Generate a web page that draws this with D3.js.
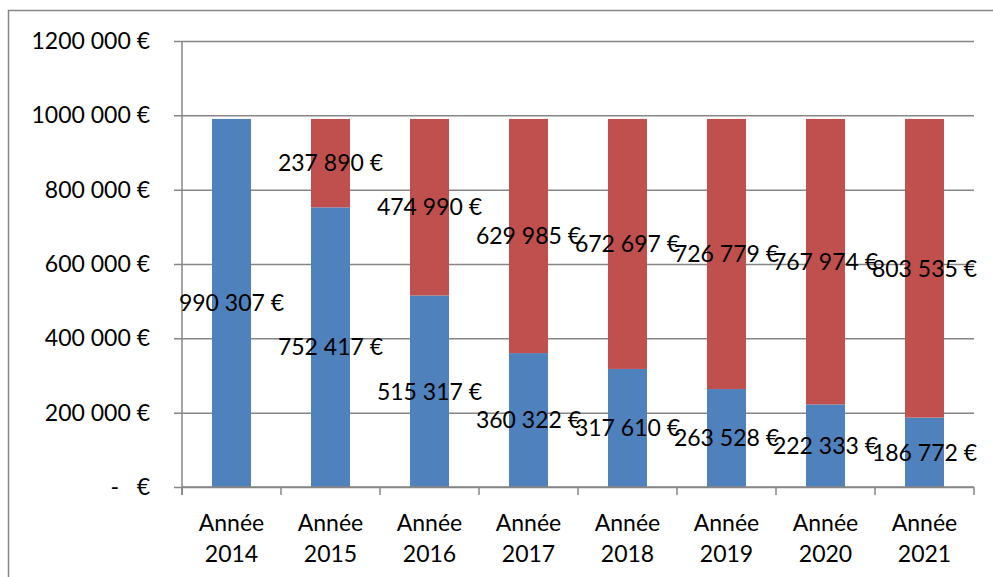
<!DOCTYPE html>
<html>
<head>
<meta charset="utf-8">
<script src="https://cdn.jsdelivr.net/npm/d3@7"></script>
<style>
  html, body { margin: 0; padding: 0; background: #fff; }
  svg { display: block; }
  text { font-family: Lato, "Open Sans", sans-serif; fill: #000; white-space: pre; }
</style>
</head>
<body>
<svg id="chart" width="993" height="577"></svg>
<script>
// Cumulative amounts per year: blue = remaining, red = already covered
const categories = ["Année 2014", "Année 2015", "Année 2016", "Année 2017", "Année 2018", "Année 2019", "Année 2020", "Année 2021"];
const blueValues = [990307, 752417, 515317, 360322, 317610, 263528, 222333, 186772];
const redValues  = [0, 237890, 474990, 629985, 672697, 726779, 767974, 803535];
const yTicks = [0, 200000, 400000, 600000, 800000, 1000000, 1200000];
const yTickLabels = ["-   €", "200 000 €", "400 000 €", "600 000 €", "800 000 €", "1000 000 €", "1200 000 €"];

const BLUE = "#4F81BD", RED = "#C0504D", GRID = "#868686";
const W = 993, H = 577;
const plotLeft = 182, plotRight = 974, plotTop = 41, plotBottom = 487;

const svg = d3.select("#chart");

// chart frame
svg.append("rect")
  .attr("x", 8.5).attr("y", 10.5)
  .attr("width", W).attr("height", H)
  .attr("fill", "none").attr("stroke", GRID).attr("stroke-width", 1.5);

const x = d3.scaleBand().domain(categories).range([plotLeft, plotRight])
  .paddingInner(0.606).paddingOuter(0.303);
const y = d3.scaleLinear().domain([0, 1200000]).range([plotBottom, plotTop]);

// horizontal gridlines with outside ticks
const yAxis = d3.axisLeft(y).tickValues(yTicks).tickSize(-(plotRight - plotLeft)).tickPadding(32)
  .tickFormat((d, i) => yTickLabels[i]);
const gy = svg.append("g").attr("transform", `translate(${plotLeft},0)`).call(yAxis);
gy.select(".domain").remove();
gy.selectAll(".tick line").attr("stroke", GRID).attr("stroke-width", 1.5).attr("x1", -8);
gy.selectAll(".tick text").attr("font-size", 23).attr("font-family", "Lato, sans-serif").attr("fill", "#000");

// vertical axis line
svg.append("line").attr("x1", plotLeft).attr("x2", plotLeft).attr("y1", plotTop).attr("y2", plotBottom + 8)
  .attr("stroke", GRID).attr("stroke-width", 1.5);

// stacked bars
const stackData = categories.map((c, i) => ({ cat: c, blue: blueValues[i], red: redValues[i] }));
const series = d3.stack().keys(["blue", "red"])(stackData);
const colors = { blue: BLUE, red: RED };

series.forEach(s => {
  svg.append("g").selectAll("rect").data(s).join("rect")
    .attr("x", d => x(d.data.cat))
    .attr("width", x.bandwidth())
    .attr("y", d => y(d[1]))
    .attr("height", d => y(d[0]) - y(d[1]))
    .attr("fill", colors[s.key]);
});

// horizontal axis with category-boundary ticks
svg.append("line").attr("x1", plotLeft).attr("x2", plotRight).attr("y1", plotBottom).attr("y2", plotBottom)
  .attr("stroke", GRID).attr("stroke-width", 1.5);
const step = x.step();
svg.append("g").selectAll("line").data(d3.range(categories.length + 1)).join("line")
  .attr("x1", i => plotLeft + i * step).attr("x2", i => plotLeft + i * step)
  .attr("y1", plotBottom).attr("y2", plotBottom + 8)
  .attr("stroke", GRID).attr("stroke-width", 1.5);

// category labels on two lines
const xl = svg.append("g").selectAll("text").data(categories).join("text")
  .attr("text-anchor", "middle").attr("font-size", 23)
  .attr("x", d => x(d) + x.bandwidth() / 2);
xl.append("tspan").attr("x", d => x(d) + x.bandwidth() / 2).attr("y", 531).text(d => d.split(" ")[0]);
xl.append("tspan").attr("x", d => x(d) + x.bandwidth() / 2).attr("y", 562).text(d => d.split(" ")[1]);

// value labels centered in each segment
const fmt = v => d3.format(",")(v).replace(/,/g, " ") + " €";
series.forEach(s => {
  svg.append("g").selectAll("text").data(s.filter(d => d[1] - d[0] > 0)).join("text")
    .attr("text-anchor", "middle").attr("font-size", 23)
    .attr("x", d => x(d.data.cat) + x.bandwidth() / 2)
    .attr("y", d => y((d[0] + d[1]) / 2))
    .attr("dy", "0.36em")
    .text(d => fmt(d[1] - d[0]));
});
</script>
</body>
</html>
